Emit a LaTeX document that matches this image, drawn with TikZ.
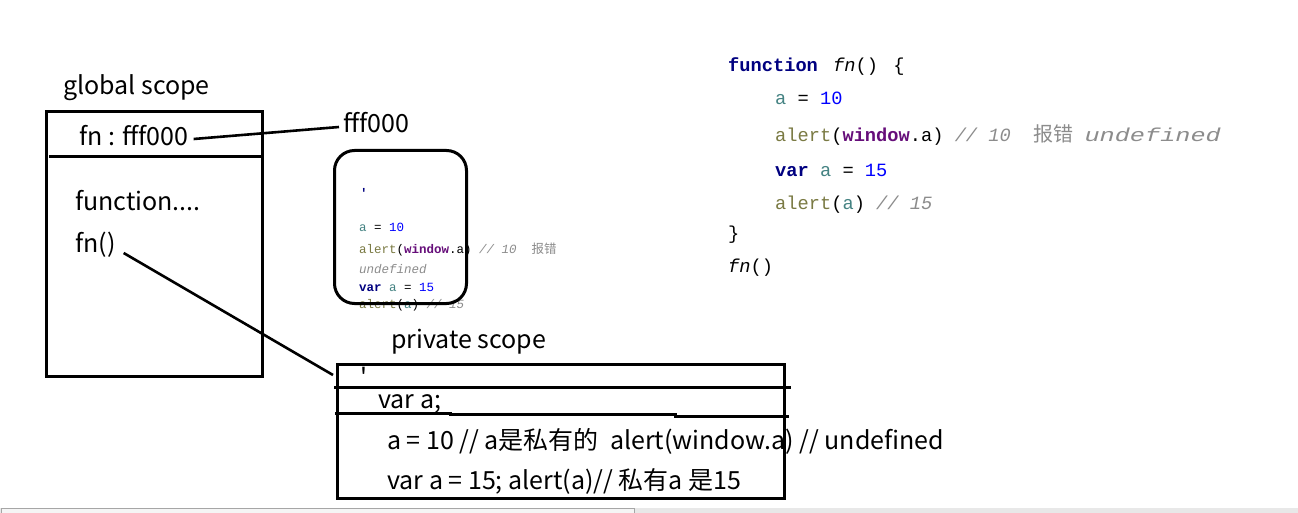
\documentclass[tikz,border=0pt]{standalone}
\usepackage{fontspec}
\newfontfamily\hand{Noto Sans CJK SC}
\newfontfamily\mono{Liberation Mono}
\newfontfamily\cjk{Noto Sans CJK SC}
\definecolor{ckey}{HTML}{000080}
\definecolor{cvar}{HTML}{458383}
\definecolor{cnum}{HTML}{0000FF}
\definecolor{calert}{HTML}{7A7A43}
\definecolor{cwin}{HTML}{660E7A}
\definecolor{ccom}{HTML}{8C8C8C}
\newcommand{\kw}[1]{\textbf{\color{ckey}#1}}
\newcommand{\vv}[1]{{\color{cvar}#1}}
\newcommand{\nm}[1]{{\color{cnum}#1}}
\newcommand{\al}[1]{{\color{calert}#1}}
\newcommand{\wn}[1]{\textbf{\color{cwin}#1}}
\newcommand{\cm}[1]{\textit{\color{ccom}#1}}
\begin{document}
\begin{tikzpicture}[x=1pt,y=-1pt,
  hw/.style={font=\hand\fontsize{25}{30}\selectfont, inner sep=0pt, anchor=base west},
  bigcode/.style={font=\mono\fontsize{18.7}{22}\selectfont, inner sep=0pt, anchor=base west},
  smallcode/.style={font=\mono\fontsize{12.5}{15}\selectfont, inner sep=0pt, anchor=base west},
  boxline/.style={line width=3pt},
  conn/.style={line width=2.6pt}]
\useasboundingbox (0,0) rectangle (1298,513);
\fill[white] (0,0) rectangle (1298,513);

% bottom status strip
\fill[black!9] (0,508) rectangle (1298,513);
\filldraw[fill=black!4, draw=black!35, line width=0.8pt] (1,508.5) rectangle (634,514);

% global scope
\node[hw] (gtitle) at (63,95) {global scope};
\node[boxline, draw, minimum width=216, minimum height=265, anchor=north west, inner sep=0pt] (gbox) at (45,110) {};
\draw[boxline] (49,157) -- (262,157);
\node[hw] (fnaddr) at (79,146) {fn : fff000};
\node[hw] (fff) at (343,133) {fff000};
\node[hw] (funcdots) at (75,211) {function....};
\node[hw] (fncall) at (75,252) {fn()};

% heap object (rounded box) with small code
\node[smallcode, text=ckey] (sq) at (360,197) {\textbf{'}};
\node[smallcode] (s1) at (359,232) {\vv{a} = \nm{10}};
\node[smallcode] (s2) at (359,253) {\al{alert}(\wn{window}.a) \cm{// 10\ \ {\cjk 报错}}};
\node[smallcode] (s3) at (359,273) {\cm{undefined}};
\node[smallcode] (s4) at (359,291) {\kw{var} \vv{a} = \nm{15}};
\node[smallcode] (s5) at (359,308) {\al{alert}(\vv{a}) \cm{// 15}};
\node[boxline, draw, rounded corners=20pt, minimum width=132, minimum height=153, anchor=north west, inner sep=0pt] (heap) at (333,149) {};

% private scope
\node[hw] (ptitle) at (391,348) {private scope};
\node[boxline, draw, minimum width=447, minimum height=134, anchor=north west, inner sep=0pt] (priv) at (336,363) {};
\draw[boxline] (334,387) -- (791,387);
\draw[boxline] (335,413) -- (450,413) -- (450,414.5) -- (675,414.5) -- (675,416) -- (789,416);
\node[hw] (pq) at (360,386) {'};
\node[hw] (pv) at (378,408) {var a;};
\node[hw] (pl1) at (387,449) {a = 10 // a是私有的\ \ alert(window.a) // undefined};
\node[hw] (pl2) at (387,489) {var a = 15; alert(a)// 私有a 是15};

% connectors
\draw[conn] ([xshift=5pt,yshift=7pt]fnaddr.base east) -- ([xshift=-4pt,yshift=6pt]fff.base west);
\draw[conn] ([xshift=8pt,yshift=-1pt]fncall.base east) -- ([xshift=-3pt,yshift=-12pt]priv.north west);

% source code on the right
\node[bigcode] (c0) at (728,72) {\kw{function}\hspace{4pt} \textit{fn}()\hspace{4pt} \{};
\node[bigcode] (c1) at (775,105) {\vv{a} = \nm{10}};
\node[bigcode] (c2) at (775,142) {\al{alert}(\wn{window}.a) \cm{// 10\ \ {\cjk\fontsize{20}{22}\selectfont 报错} \scalebox{1.35}[1]{undefined}}};
\node[bigcode] (c3) at (775,177) {\kw{var} \vv{a} = \nm{15}};
\node[bigcode] (c4) at (775,210) {\al{alert}(\vv{a}) \cm{// 15}};
\node[bigcode] (c5) at (728,240) {\}};
\node[bigcode] (c6) at (728,272) {\textit{fn}()};
\end{tikzpicture}
\end{document}
